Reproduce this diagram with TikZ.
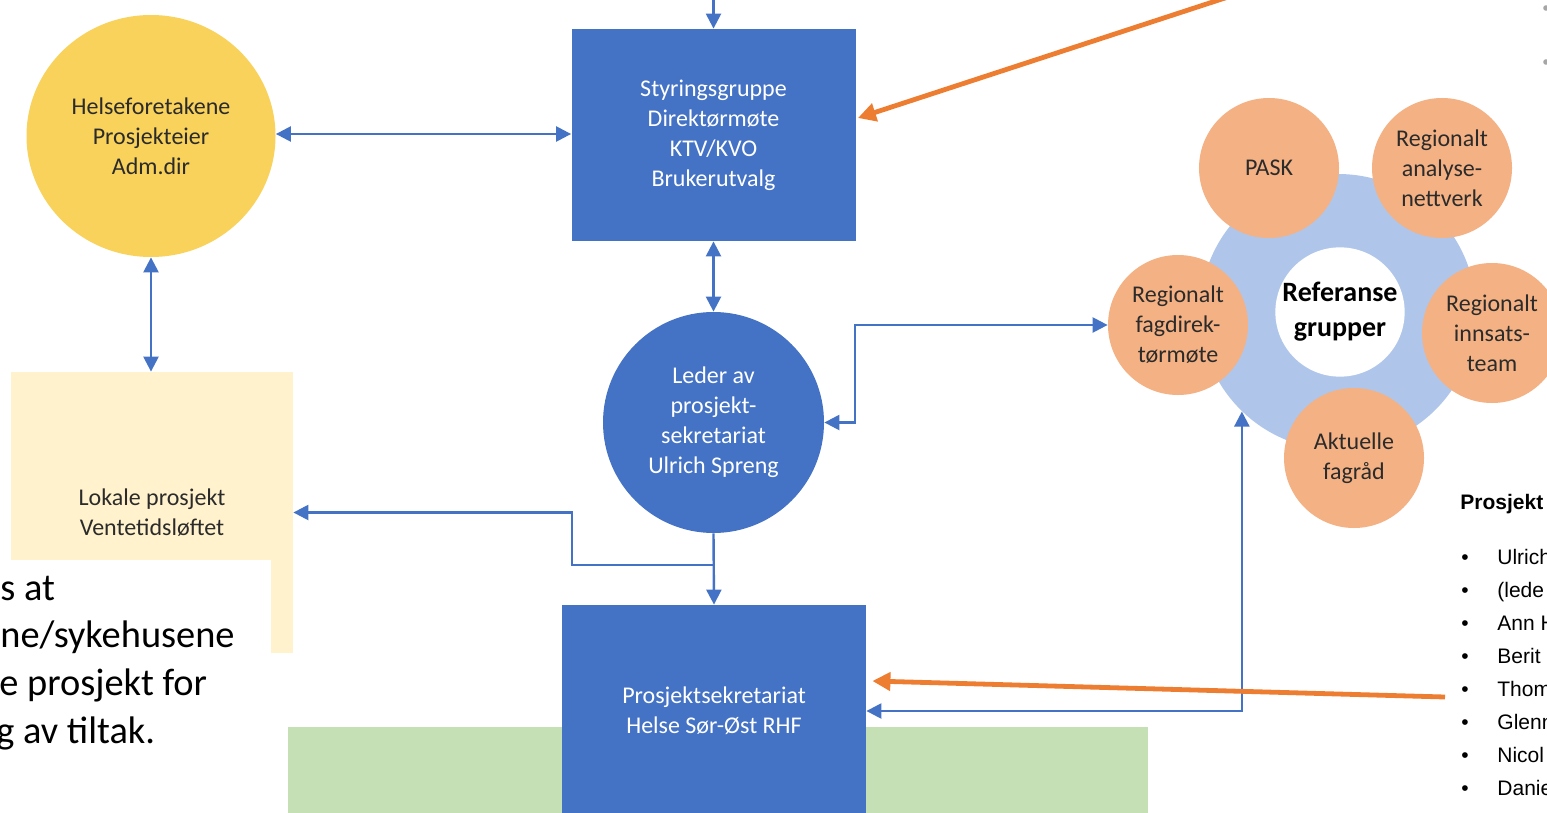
\documentclass[tikz,border=0pt]{standalone}
\usepackage{fontspec}
\setmainfont{Carlito}
\newfontfamily\listfont{Liberation Sans}
\usetikzlibrary{arrows.meta,shapes.geometric}
\definecolor{cblue}{HTML}{4472C4}
\definecolor{cyellow}{HTML}{F9D25B}
\definecolor{cpale}{HTML}{FFF2CC}
\definecolor{cgreen}{HTML}{C5E0B4}
\definecolor{corange}{HTML}{F4B183}
\definecolor{clight}{HTML}{AFC6EA}
\definecolor{cline}{HTML}{ED7D31}
\definecolor{ctext}{HTML}{2B2B2B}
\begin{document}
\begin{tikzpicture}[x=0.5pt,y=-0.5pt,
  nodetxt/.style={font=\fontsize{12}{15}\selectfont, align=center},
  bluebox/.style={rectangle, fill=cblue, text=white, nodetxt, inner sep=0pt},
  orcircle/.style={circle, fill=corange, minimum size=70pt, text=ctext, nodetxt, inner sep=0pt},
  barr/.style={draw=cblue, line width=1.2pt, -{Triangle[length=7.5pt,width=7.5pt]}},
  bdarr/.style={draw=cblue, line width=1.2pt, {Triangle[length=7.5pt,width=7.5pt]}-{Triangle[length=7.5pt,width=7.5pt]}},
  oarr/.style={draw=cline, line width=2.4pt, -{Triangle[length=9pt,width=9pt]}},
  listtxt/.style={font=\listfont\fontsize{10.5}{12}\selectfont, anchor=base west, inner sep=0pt, text=black},
  bigtxt/.style={font=\fontsize{19.2}{24}\selectfont, anchor=base west, inner sep=0pt, text=black},
]
\useasboundingbox (0,0) rectangle (1547,813);
\clip (0,0) rectangle (1547,813);
\fill[white] (0,0) rectangle (1547,813);

% left column
\node[ellipse, fill=cyellow, minimum width=124.5pt, minimum height=121pt, text=ctext, nodetxt, inner sep=0pt]
  (helse) at (151,136) {Helseforetakene\\Prosjekteier\\Adm.dir};
\node[rectangle, fill=cpale, minimum width=141pt, minimum height=140.5pt, text=ctext, nodetxt, inner sep=0pt]
  (lokale) at (152,512.5) {Lokale prosjekt\\Ventetidsløftet};
\node[rectangle, fill=white, minimum width=135.5pt, minimum height=130pt, inner sep=0pt, anchor=north west]
  (wbox) at (0,560) {};
\node[bigtxt] (t1) at (0,600) {s at};
\node[bigtxt] (t2) at (0,647) {ne/sykehusene};
\node[bigtxt] (t3) at (-1,695) {e prosjekt for};
\node[bigtxt] (t4) at (-4,743) {g av tiltak.};

% green area
\node[rectangle, fill=cgreen, minimum width=430pt, minimum height=50pt, inner sep=0pt, anchor=north west]
  (green) at (288,727) {};

% centre column
\node[bluebox, minimum width=142pt, minimum height=106pt] (styr) at (713.5,135)
  {Styringsgruppe\\Direktørmøte\\KTV/KVO\\Brukerutvalg};
\node[circle, fill=cblue, text=white, nodetxt, minimum size=110.5pt, inner sep=0pt] (leder) at (713.5,422.5)
  {Leder av\\prosjekt-\\sekretariat\\Ulrich Spreng};
\node[bluebox, minimum width=152pt, minimum height=106pt] (prosj) at (714,711)
  {Prosjektsekretariat\\Helse Sør-Øst RHF};

% reference groups
\node[circle, fill=clight, minimum size=138pt, inner sep=0pt] (ref) at (1338,312) {};
\node[circle, fill=white, minimum size=56pt, inner sep=0pt, font=\bfseries\fontsize{14}{17.5}\selectfont, align=center, text=black]
  (refc) at (1340,312) {Referanse\\grupper};
\node[orcircle] (pask) at (1269,168) {PASK};
\node[orcircle] (analyse) at (1442,168) {Regionalt\\analyse-\\nettverk};
\node[orcircle] (innsats) at (1492,333) {Regionalt\\innsats-\\team};
\node[orcircle] (fagraad) at (1354,458) {Aktuelle\\fagråd};
\node[orcircle] (fagdir) at (1178,325) {Regionalt\\fagdirek-\\tørmøte};

% connectors
\coordinate (topin) at (713.5,-4);
\draw[barr] (topin) -- (styr.north);
\draw[bdarr] (helse.east |- 0,134) -- (styr.west |- 0,134);
\draw[bdarr] (styr.south) -- (leder.north);
\draw[bdarr] (helse.south) -- (lokale.north -| helse.south);
\draw[barr] (leder.south) -- (prosj.north);
\coordinate (j1) at (713.5,565);
\draw[barr] (j1) -- (572,565) |- (lokale.east);
\draw[bdarr] (leder.east) -- (855,422.5) |- (fagdir.west);
\draw[bdarr] (prosj.east) -| (ref.226);

% orange arrows
\coordinate (o1) at (1228,-3);
\draw[oarr] (o1) -- ([yshift=8.5pt,xshift=1pt]styr.east);
\coordinate (o2) at (1445,697);
\draw[oarr] (o2) -- ([yshift=15pt,xshift=3pt]prosj.east);

% right list
\node[listtxt, font=\listfont\bfseries\fontsize{10.5}{12}\selectfont] (lh) at (1460,509) {Prosjekt};
\foreach \i/\t in {0/Ulrich,1/(lede,2/Ann H,3/Berit,4/Thom,5/Glenn,6/Nicol,7/Danie}{
  \node[listtxt] (b\i) at (1461,564+33*\i) {•};
  \node[listtxt] (l\i) at (1497,564+33*\i) {\t};
}
% grey bullets top right
\fill[gray!70] (1546,8) circle (1.4pt);
\fill[gray!70] (1546,62) circle (1.4pt);
\end{tikzpicture}
\end{document}
